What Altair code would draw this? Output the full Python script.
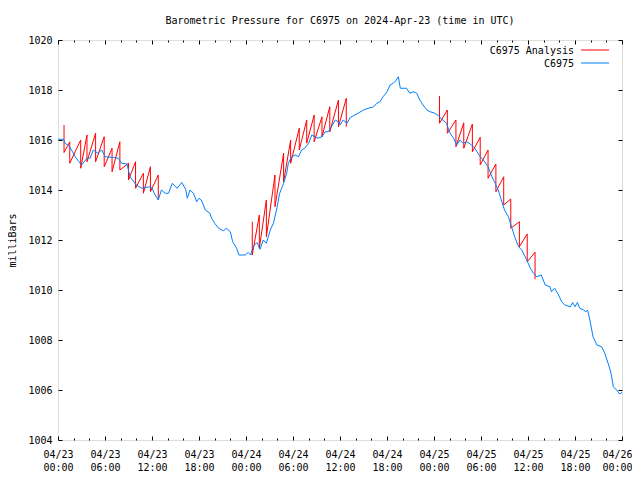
import altair as alt
import pandas as pd

# ---- data (hours since 2024-04-23 00:00 UTC) ----
obs_hour = [0.0, 0.7, 0.9, 1.5, 2.2, 3.0, 3.7, 4.1, 4.5, 5.1, 5.6, 6.0, 7.1, 7.7, 8.1, 8.8,
            9.2, 10.0, 10.7, 11.7, 12.0, 12.4, 12.8, 13.2, 13.7, 14.1, 14.6, 15.2, 15.8,
            16.3, 16.5, 16.85, 17.3, 17.7, 18.0, 18.3, 18.8, 19.4, 19.6, 20.0, 20.5, 21.1,
            21.5, 22.0, 22.3, 22.8, 23.1, 23.9, 24.3, 24.6, 24.9, 25.4, 25.8, 26.2, 26.6,
            27.1, 27.5, 27.9, 28.3, 28.8, 29.2, 29.4, 29.8, 30.3, 30.7, 31.1, 31.5, 32.0,
            32.4, 32.8, 33.2, 33.7, 34.1, 34.5, 34.9, 35.4, 35.8, 36.0, 36.4, 36.9, 37.3,
            37.7, 38.3, 39.0, 39.6, 40.3, 40.7, 41.1, 41.5, 42.0, 42.4, 42.8, 43.2, 43.45,
            43.7, 44.5, 44.9, 45.4, 45.8, 46.2, 46.6, 47.1, 47.5, 48.1, 48.6, 49.0, 49.6,
            50.0, 50.5, 50.9, 51.3, 51.7, 52.2, 52.8, 53.2, 53.9, 54.3, 54.9, 55.4, 55.8,
            56.2, 56.6, 57.0, 57.5, 57.9, 58.3, 58.8, 59.2, 59.8, 60.3, 60.7, 61.1, 61.7,
            62.2, 62.8, 63.0, 63.4, 63.9, 64.3, 64.7, 65.4, 65.7, 66.0, 66.3, 66.6, 67.1,
            67.4, 67.6, 67.9, 68.3, 68.8, 69.4, 69.8, 70.3, 70.6, 70.9, 71.3, 71.7, 72.0]
obs_mb = [1016.03, 1016.03, 1015.87, 1015.73, 1015.33, 1015.0, 1015.27, 1015.27, 1015.6,
          1015.47, 1015.6, 1015.33, 1015.3, 1015.27, 1015.07, 1015.04, 1014.53, 1014.2,
          1014.07, 1014.13, 1014.07, 1013.8, 1013.6, 1014.0, 1013.87, 1013.87, 1014.27,
          1014.07, 1014.3, 1014.03, 1013.67, 1014.0, 1013.87, 1013.53, 1013.67, 1013.6,
          1013.2, 1013.07, 1012.87, 1012.67, 1012.47, 1012.37, 1012.47, 1012.33, 1011.93,
          1011.67, 1011.4, 1011.4, 1011.5, 1011.4, 1011.73, 1011.9, 1011.63, 1012.0,
          1011.87, 1012.4, 1012.67, 1013.2, 1013.87, 1014.27, 1014.67, 1015.07, 1015.33,
          1015.4, 1015.33, 1015.6, 1015.67, 1015.87, 1016.2, 1016.13, 1016.07, 1016.13,
          1016.33, 1016.33, 1016.53, 1016.8, 1016.73, 1016.6, 1016.8, 1016.67, 1016.9,
          1016.97, 1017.07, 1017.2, 1017.27, 1017.33, 1017.47, 1017.53, 1017.73, 1017.93,
          1018.2, 1018.27, 1018.4, 1018.53, 1018.07, 1018.07, 1017.87, 1017.93, 1017.87,
          1017.6, 1017.4, 1017.2, 1017.13, 1017.07, 1016.97, 1016.83, 1016.67, 1016.3,
          1016.07, 1015.8, 1016.0, 1015.87, 1015.93, 1015.8, 1015.67, 1015.33, 1015.2,
          1014.93, 1014.53, 1014.27, 1014.0, 1013.6, 1013.2, 1012.93, 1012.53, 1012.13,
          1011.73, 1011.6, 1011.23, 1010.87, 1010.67, 1010.53, 1010.6, 1010.2, 1010.13,
          1009.93, 1010.07, 1009.8, 1009.53, 1009.4, 1009.33, 1009.5, 1009.33, 1009.5,
          1009.27, 1009.2, 1009.13, 1009.2, 1008.8, 1008.13, 1007.8, 1007.73, 1007.47,
          1007.0, 1006.67, 1006.13, 1006.0, 1005.84, 1005.9]

ana_run = [1] * 26 + [2] * 26 + [3] * 26
ana_hour = [0.77, 0.77, 1.5, 1.5, 2.9, 2.9, 3.7, 3.7, 4.8, 4.8, 5.9, 5.9, 6.9, 6.9,
            7.9, 7.9, 9.0, 9.0, 9.9, 9.9, 10.9, 10.9, 11.8, 11.8, 12.8, 12.8,
            24.8, 24.8, 25.7, 25.7, 26.6, 26.6, 27.7, 27.7, 28.8, 28.8, 29.7, 29.7, 30.8,
            30.8, 31.75, 31.75, 32.7, 32.7, 33.7, 33.7, 34.7, 34.7, 35.8, 35.8, 36.8, 36.8,
            48.7, 48.7, 49.7, 49.7, 50.8, 50.8, 51.8, 51.8, 52.9, 52.9, 53.9, 53.9, 54.9,
            54.9, 55.9, 55.9, 56.9, 56.9, 57.8, 57.8, 58.9, 58.9, 59.9, 59.9, 60.9, 60.9]
ana_mb = [1016.6, 1015.5, 1015.93, 1015.07, 1016.0, 1014.87, 1016.2, 1015.13,
          1016.27, 1015.13, 1016.13, 1014.93, 1015.67, 1014.73, 1015.93, 1014.8, 1015.07,
          1014.4, 1015.13, 1014.07, 1014.67, 1013.87, 1014.93, 1013.93, 1014.6, 1013.6,
          1012.73, 1011.4, 1013.0, 1011.67, 1013.6, 1012.13, 1014.6, 1013.33, 1015.47,
          1014.33, 1016.0, 1015.07, 1016.47, 1015.6, 1016.8, 1015.87, 1017.0, 1015.93,
          1016.93, 1016.13, 1017.33, 1016.33, 1017.6, 1016.53, 1017.67, 1016.53,
          1017.76, 1016.67, 1017.2, 1016.27, 1016.8, 1015.73, 1016.69, 1015.67, 1016.64,
          1015.53, 1016.11, 1015.0, 1015.6, 1014.47, 1015.04, 1013.93, 1014.53, 1013.4,
          1013.64, 1012.47, 1012.73, 1011.73, 1012.24, 1011.13, 1011.51, 1010.43]

series_names = ["C6975 Analysis", "C6975"]
series_colors = ["#ff0000", "#0080ff"]

x_major = list(range(0, 73, 6))
x_minor = [h for h in range(0, 73, 2) if h % 6]
x_dates = ["04/23", "04/23", "04/23", "04/23", "04/24", "04/24", "04/24", "04/24",
           "04/25", "04/25", "04/25", "04/25", "04/26"]
x_times = ["00:00", "06:00", "12:00", "18:00"] * 3 + ["00:00"]
y_ticks = list(range(1004, 1021, 2))

obs = pd.DataFrame({"hour": obs_hour, "mb": obs_mb})
obs["series"] = series_names[1]
obs["idx"] = range(len(obs))
ana = pd.DataFrame({"hour": ana_hour, "mb": ana_mb, "run": ana_run})
ana["series"] = series_names[0]
ana["idx"] = range(len(ana))

W, H = 564, 400
FONT = "DejaVu Sans Mono"
MAJOR, MINOR = 4, 2

xs = alt.Scale(domain=[0, 72], nice=False, zero=False)
ys = alt.Scale(domain=[1004, 1020], nice=False, zero=False)
cs = alt.Scale(domain=series_names, range=series_colors)

dates_js = "[" + ",".join("'%s'" % d for d in x_dates) + "]"
times_js = "[" + ",".join("'%s'" % t for t in x_times) + "]"
label_expr = f"[{dates_js}[round(datum.value/6)], {times_js}[round(datum.value/6)]]"
last_test = f"datum.value == {x_major[-1]}"

main_x = alt.Axis(orient="bottom", values=x_major, labelExpr=label_expr, ticks=False,
                  tickSize=0, domain=False, grid=False, labelPadding=9, labelLineHeight=13,
                  labelFont=FONT, labelFontSize=10, labelColor="black", labelOverlap=False,
                  labelFlush=False, title=None,
                  labelAlign={"condition": {"test": last_test, "value": "right"}, "value": "center"},
                  labelOffset={"condition": {"test": last_test, "value": 10}, "value": 0})
main_y = alt.Axis(orient="left", values=y_ticks, format="d", ticks=False, tickSize=0,
                  domain=False, grid=False, labelPadding=6, labelFont=FONT, labelFontSize=10,
                  labelColor="black", title="milliBars", titleFont=FONT, titleFontSize=10,
                  titleFontWeight="normal", titleColor="black", titleX=-46, titleY=H / 2,
                  titleAngle=270, titleAlign="center", titleBaseline="middle")


def tick_axis(orient, values, size, offset):
    return alt.Axis(orient=orient, offset=offset, values=values, labels=False, domain=False,
                    grid=False, ticks=True, tickSize=size, tickColor="black", tickWidth=1,
                    title=None)


red = alt.Chart(ana).mark_line(strokeWidth=1).encode(
    x=alt.X("hour:Q", scale=xs, axis=tick_axis("top", x_major, MAJOR, -H)),
    y=alt.Y("mb:Q", scale=ys, axis=tick_axis("right", y_ticks, MAJOR, -W)),
    color=alt.Color("series:N", scale=cs, legend=None), detail="run:N", order="idx:Q")

blue = alt.Chart(obs).mark_line(strokeWidth=1).encode(
    x=alt.X("hour:Q", scale=xs, axis=main_x),
    y=alt.Y("mb:Q", scale=ys, axis=main_y),
    color=alt.Color("series:N", scale=cs, legend=None), order="idx:Q")

g1 = alt.Chart(obs).mark_line(opacity=0).encode(
    x=alt.X("hour:Q", scale=xs, axis=tick_axis("bottom", x_major, MAJOR, -H)),
    y=alt.Y("mb:Q", scale=ys, axis=tick_axis("left", y_ticks, MAJOR, -W)), order="idx:Q")
g2 = alt.Chart(obs).mark_line(opacity=0).encode(
    x=alt.X("hour:Q", scale=xs, axis=tick_axis("top", x_minor, MINOR, -H)),
    y=alt.Y("mb:Q", scale=ys, axis=None), order="idx:Q")
g3 = alt.Chart(obs).mark_line(opacity=0).encode(
    x=alt.X("hour:Q", scale=xs, axis=tick_axis("bottom", x_minor, MINOR, -H)),
    y=alt.Y("mb:Q", scale=ys, axis=None), order="idx:Q")

# gnuplot-style key: text right-aligned, line sample to its right
key_layers = []
for i, name in enumerate(series_names):
    kd = pd.DataFrame({"series": [name]})
    key_layers.append(alt.Chart(kd).mark_text(align="right", baseline="middle", font=FONT,
                                              fontSize=10, color="black").encode(
        text="series:N", x=alt.value(516), y=alt.value(11 + 13 * i)))
    key_layers.append(alt.Chart(kd).mark_rule(strokeWidth=1).encode(
        color=alt.Color("series:N", scale=cs, legend=None),
        x=alt.value(523), x2=alt.value(551), y=alt.value(10 + 13 * i)))

chart = alt.layer(red, blue, g1, g2, g3, *key_layers).resolve_axis(
    x="independent", y="independent").properties(
    width=W, height=H,
    title=alt.Title("Barometric Pressure for C6975 on 2024-Apr-23 (time in UTC)", font=FONT,
                    fontSize=10, fontWeight="normal", color="black", anchor="middle",
                    frame="group", offset=9),
    autosize=alt.AutoSizeParams(type="none"),
    padding={"left": 50, "top": 32, "right": 10, "bottom": 32},
).configure_view(stroke="black", strokeWidth=1).configure(background="white")

chart.save("out.html", embed_options={"renderer": "svg", "actions": False})
